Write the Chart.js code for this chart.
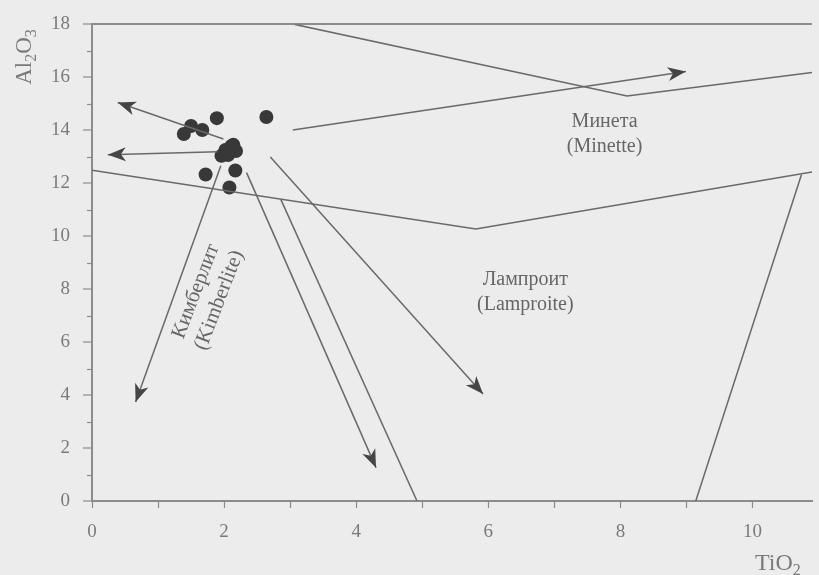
<!DOCTYPE html>
<html>
<head>
<meta charset="utf-8">
<script src="https://cdn.jsdelivr.net/npm/chart.js@4.4.1/dist/chart.umd.min.js"></script>
<style>
  html, body { margin: 0; padding: 0; background: #ececec; }
  canvas { display: block; }
</style>
</head>
<body>
<canvas id="chart" width="819" height="575"></canvas>
<script>
// Sample compositions, wt.%
const sampleTiO2  = [1.89, 2.64, 1.50, 1.39, 1.67, 2.14, 2.02, 2.18, 1.96, 2.06, 2.11, 1.72, 2.17, 2.08];
const sampleAl2O3 = [14.46, 14.50, 14.16, 13.86, 14.01, 13.45, 13.26, 13.22, 13.04, 13.07, 13.41, 12.33, 12.48, 11.84];

// Field boundaries, [TiO2, Al2O3] vertices
const minetteBoundary   = [[3.07, 18.0], [8.10, 15.30], [10.9, 16.18]];
const lamproiteBoundary = [[0, 12.49], [5.81, 10.27], [10.9, 12.43]];
const lamproiteRight    = [[10.74, 12.32], [9.14, 0]];
const kimberliteRight   = [[2.86, 11.38], [4.92, 0]];

// Trend arrows, [start, end]
const trendMinette    = [[3.04, 14.01], [8.99, 16.22]];
const trendUpLeft     = [[1.99, 13.67], [0.39, 15.05]];
const trendLeft       = [[1.90, 13.19], [0.24, 13.08]];
const trendKimberlite = [[1.95, 12.66], [0.66, 3.74]];
const trendDown       = [[2.34, 12.40], [4.30, 1.26]];
const trendLamproite  = [[2.70, 12.99], [5.92, 4.04]];

// Axis ticks
const xTickValues = [0, 1, 2, 3, 4, 5, 6, 7, 8, 9, 10];
const xTickLabels = ['0', '', '2', '', '4', '', '6', '', '8', '', '10'];
const yTickValues = [0, 1, 2, 3, 4, 5, 6, 7, 8, 9, 10, 11, 12, 13, 14, 15, 16, 17, 18];
const yTickLabels = ['0', '', '2', '', '4', '', '6', '', '8', '', '10', '', '12', '', '14', '', '16', '', '18'];

// Field names
const fieldNames = [
  ['Минета', '(Minette)'],
  ['Лампроит', '(Lamproite)'],
  ['Кимберлит', '(Kimberlite)']
];
// Where each field name sits (TiO2, Al2O3), its rotation in degrees and size
const fieldNameAnchors = [
  { x: 7.76, y: 13.85, rot: 0, size: 20 },
  { x: 6.56, y: 7.90, rot: 0, size: 20 },
  { x: 1.75, y: 7.75, rot: -69, size: 21 }
];

const SERIF = '"Liberation Serif", "DejaVu Serif", serif';
const LINE = '#696969';
const AXIS = '#8c8c8c';
const TEXT = '#7a7a7a';

const toXY = pts => pts.map(p => ({ x: p[0], y: p[1] }));
const lineSet = (pts, arrow) => ({
  type: 'line',
  data: toXY(pts),
  showLine: true,
  borderColor: LINE,
  borderWidth: 1.5,
  pointRadius: 0,
  tension: 0,
  arrow: !!arrow
});

// Filled stealth arrowheads at the end of trend lines
const arrowHeads = {
  id: 'arrowHeads',
  afterDatasetsDraw(chart) {
    const ctx = chart.ctx;
    chart.data.datasets.forEach((ds, i) => {
      if (!ds.arrow) return;
      const pts = chart.getDatasetMeta(i).data;
      const a = pts[pts.length - 2], b = pts[pts.length - 1];
      const ang = Math.atan2(b.y - a.y, b.x - a.x);
      const L = 18, W = 7, N = 13;
      ctx.save();
      ctx.translate(b.x, b.y);
      ctx.rotate(ang);
      ctx.fillStyle = '#454545';
      ctx.beginPath();
      ctx.moveTo(0, 0);
      ctx.lineTo(-L, -W);
      ctx.lineTo(-N, 0);
      ctx.lineTo(-L, W);
      ctx.closePath();
      ctx.fill();
      ctx.restore();
    });
  }
};

// Short minor ticks on the Al2O3 axis
const minorTicks = {
  id: 'minorTicks',
  afterDraw(chart) {
    const ctx = chart.ctx;
    const ys = chart.scales.y;
    const left = chart.chartArea.left;
    ctx.save();
    ctx.strokeStyle = AXIS;
    ctx.lineWidth = 1.2;
    yTickValues.forEach(v => {
      if (v % 2 === 0) return;
      const py = Math.round(ys.getPixelForValue(v)) + 0.5;
      ctx.beginPath();
      ctx.moveTo(left - 5, py);
      ctx.lineTo(left, py);
      ctx.stroke();
    });
    ctx.restore();
  }
};

// Chemical formulae with subscripts
function drawChem(ctx, parts, size) {
  let x = 0;
  parts.forEach(([t, sub]) => {
    ctx.font = (sub ? Math.round(size * 0.68) : size) + 'px ' + SERIF;
    ctx.fillText(t, x, sub ? size * 0.22 : 0);
    x += ctx.measureText(t).width;
  });
}
function chemWidth(ctx, parts, size) {
  let w = 0;
  parts.forEach(([t, sub]) => {
    ctx.font = (sub ? Math.round(size * 0.68) : size) + 'px ' + SERIF;
    w += ctx.measureText(t).width;
  });
  return w;
}

const textLayer = {
  id: 'textLayer',
  afterDraw(chart) {
    const ctx = chart.ctx;
    const xs = chart.scales.x, ys = chart.scales.y;
    ctx.save();
    ctx.fillStyle = '#666666';
    ctx.textAlign = 'center';
    ctx.textBaseline = 'middle';
    fieldNames.forEach((lines, i) => {
      const a = fieldNameAnchors[i];
      ctx.font = a.size + 'px ' + SERIF;
      ctx.save();
      ctx.translate(xs.getPixelForValue(a.x), ys.getPixelForValue(a.y));
      ctx.rotate(a.rot * Math.PI / 180);
      const gap = 25;
      lines.forEach((t, k) => {
        ctx.fillText(t, 0, (k - (lines.length - 1) / 2) * gap);
      });
      ctx.restore();
    });

    // Axis titles
    ctx.fillStyle = TEXT;
    ctx.textAlign = 'left';
    ctx.textBaseline = 'alphabetic';
    const yTitle = [['Al', false], ['2', true], ['O', false], ['3', true]];
    const ySize = 23;
    const yw = chemWidth(ctx, yTitle, ySize);
    ctx.save();
    ctx.translate(31, 57 + yw / 2);
    ctx.rotate(-Math.PI / 2);
    drawChem(ctx, yTitle, ySize);
    ctx.restore();

    const xTitle = [['TiO', false], ['2', true]];
    ctx.save();
    ctx.translate(755, 570);
    drawChem(ctx, xTitle, 24);
    ctx.restore();
    ctx.restore();
  }
};

new Chart(document.getElementById('chart'), {
  type: 'scatter',
  data: {
    datasets: [
      lineSet(minetteBoundary),
      lineSet(lamproiteBoundary),
      lineSet(lamproiteRight),
      lineSet(kimberliteRight),
      lineSet(trendMinette, true),
      lineSet(trendUpLeft, true),
      lineSet(trendLeft, true),
      lineSet(trendKimberlite, true),
      lineSet(trendDown, true),
      lineSet(trendLamproite, true),
      {
        data: sampleTiO2.map((x, i) => ({ x, y: sampleAl2O3[i] })),
        pointRadius: 7,
        pointBackgroundColor: '#383838',
        pointBorderWidth: 0,
        showLine: false
      }
    ]
  },
  options: {
    responsive: false,
    animation: false,
    devicePixelRatio: 1,
    layout: { padding: { top: 21, right: 0, bottom: 0, left: 0 } },
    plugins: { legend: { display: false }, tooltip: { enabled: false } },
    scales: {
      x: {
        type: 'linear',
        min: 0,
        max: 10.9,
        afterBuildTicks: s => { s.ticks = xTickValues.map(v => ({ value: v })); },
        afterFit: s => { s.height = 74; },
        border: { color: AXIS, width: 2 },
        grid: { drawOnChartArea: false, drawTicks: true, tickLength: 7, tickColor: AXIS, tickWidth: 1.2 },
        ticks: {
          autoSkip: false,
          maxRotation: 0,
          padding: 13,
          color: TEXT,
          font: { family: SERIF, size: 19 },
          callback: (v, i) => xTickLabels[i]
        }
      },
      y: {
        type: 'linear',
        min: 0,
        max: 18,
        afterBuildTicks: s => { s.ticks = yTickValues.map(v => ({ value: v })); },
        afterFit: s => { s.width = 92; },
        border: { color: AXIS, width: 2 },
        grid: {
          drawOnChartArea: true,
          lineWidth: 2,
          color: c => (c.tick && c.tick.value === 18 ? AXIS : 'rgba(0,0,0,0)'),
          tickLength: 9,
          tickWidth: 1.2,
          tickColor: c => (c.tick && c.tick.value % 2 === 0 ? AXIS : 'rgba(0,0,0,0)')
        },
        ticks: {
          autoSkip: false,
          padding: 13,
          color: TEXT,
          font: { family: SERIF, size: 19 },
          callback: (v, i) => yTickLabels[i]
        }
      }
    }
  },
  plugins: [arrowHeads, minorTicks, textLayer]
});
</script>
</body>
</html>
